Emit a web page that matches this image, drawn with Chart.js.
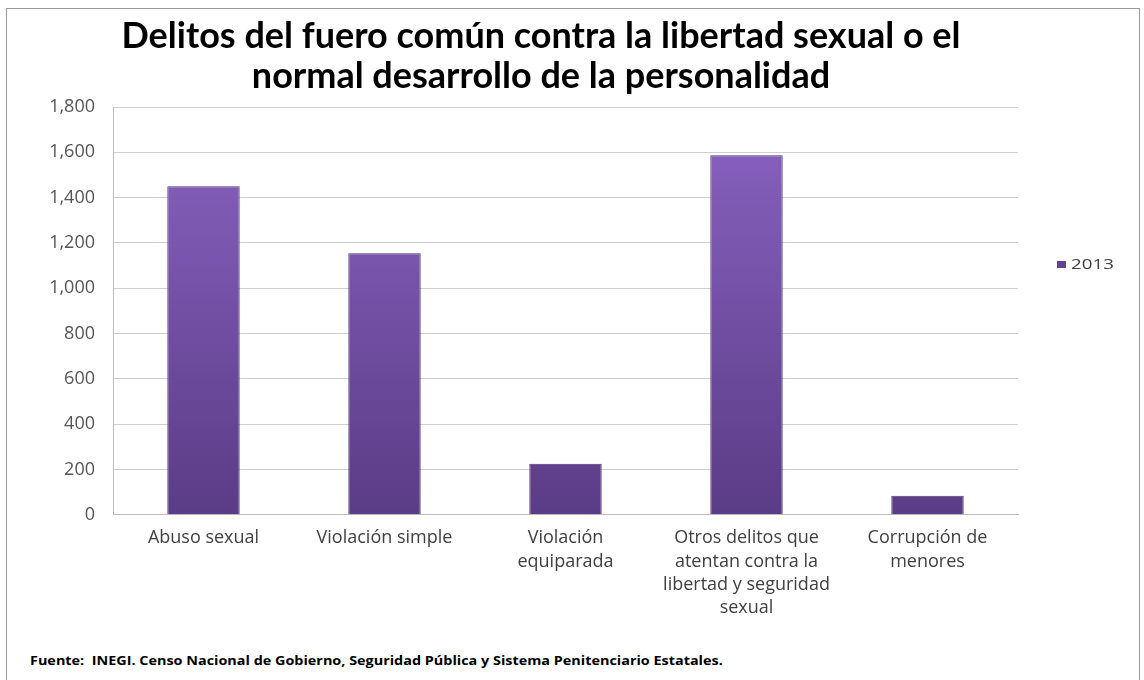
<!DOCTYPE html>
<html>
<head>
<meta charset="utf-8">
<script src="https://cdn.jsdelivr.net/npm/chart.js@4.4.1/dist/chart.umd.min.js"></script>
<style>
  html, body { margin: 0; padding: 0; background: #fff; }
  #wrap { position: relative; width: 1144px; height: 680px; overflow: hidden; }
  #frame { position: absolute; left: 6px; top: 8px; width: 1132px; height: 700px; border: 1px solid #9a9a9a; }
  #title { position: absolute; left: 0; width: 1082px; top: 14px; text-align: center;
           font: bold 36px Lato, sans-serif; line-height: 40px; color: #000; }
  #chart-box { position: absolute; left: 0; top: 0; width: 1144px; height: 645px; }
  #source { position: absolute; left: 30px; top: 652px; font: bold 12px "Open Sans", sans-serif; color: #000;
            white-space: nowrap; transform: scaleX(1.2); transform-origin: left center; }
</style>
</head>
<body>
<div id="wrap">
  <div id="frame"></div>
  <div id="chart-box"><canvas id="c"></canvas></div>
  <div id="title">Delitos del fuero común contra la libertad sexual o el<br>normal desarrollo de la personalidad</div>
  <div id="source">Fuente:&nbsp; INEGI. Censo Nacional de Gobierno, Seguridad Pública y Sistema Penitenciario Estatales.</div>
</div>
<script>
'use strict';

// ── Data ─────────────────────────────────────────────────────────────────────
const categories = [
  'Abuso sexual',
  'Violación simple',
  ['Violación', 'equiparada'],
  ['Otros delitos que', 'atentan contra la', 'libertad y seguridad', 'sexual'],
  ['Corrupción de', 'menores'],
];
const values2013 = [1450, 1155, 226, 1587, 84];
const seriesName = '2013';
const yTicks = [0, 200, 400, 600, 800, 1000, 1200, 1400, 1600, 1800];

// ── Bar fill: purple gradient like the original ─────────────────────────────
function barFill(ctx) {
  const area = ctx.chart.chartArea;
  if (!area) return '#7150a0';
  const g = ctx.chart.ctx.createLinearGradient(0, area.top, 0, area.bottom);
  g.addColorStop(0, '#8a63c2');
  g.addColorStop(1, '#5b3c86');
  return g;
}

// ── Legend drawn at the right of the plot ────────────────────────────────────
const sideLegend = {
  id: 'sideLegend',
  afterDraw(chart) {
    const { ctx, chartArea } = chart;
    const x = chartArea.right + 39;
    const y = 265;
    ctx.save();
    ctx.fillStyle = '#5f4591';
    ctx.fillRect(x, y - 4, 9, 7);
    ctx.fillStyle = '#404040';
    ctx.font = '15px "Open Sans", sans-serif';
    ctx.textBaseline = 'middle';
    ctx.translate(x + 14, y);
    ctx.scale(1.25, 1);
    ctx.fillText(seriesName, 0, 0);
    ctx.restore();
  },
};

new Chart(document.getElementById('c'), {
  type: 'bar',
  data: {
    labels: categories,
    datasets: [{
      label: seriesName,
      data: values2013,
      backgroundColor: barFill,
      borderColor: '#4d3474',
      borderWidth: 1,
      barPercentage: 0.4,
      categoryPercentage: 1,
    }],
  },
  options: {
    responsive: true,
    maintainAspectRatio: false,
    animation: false,
    layout: { padding: { top: 107, right: 126, bottom: 14, left: 0 } },
    plugins: {
      legend: { display: false },
      title: { display: false },
      tooltip: { enabled: false },
    },
    scales: {
      x: {
        grid: { display: false, drawTicks: false },
        border: { display: true, color: '#bdbdbd' },
        ticks: {
          color: '#404040',
          padding: 12,
          maxRotation: 0,
          autoSkip: false,
          font: { family: 'Open Sans', size: 18, lineHeight: 1.28 },
        },
      },
      y: {
        min: 0,
        max: 1800,
        afterFit(s) { s.width = 113; },
        afterBuildTicks(s) { s.ticks = yTicks.map(v => ({ value: v })); },
        grid: { color: '#cfcfcf', drawTicks: false },
        border: { display: true, color: '#bdbdbd' },
        ticks: {
          color: '#555',
          padding: 18,
          font: { family: 'Open Sans', size: 18 },
          callback: v => v.toLocaleString('en-US'),
        },
      },
    },
  },
  plugins: [sideLegend],
});
</script>
</body>
</html>
